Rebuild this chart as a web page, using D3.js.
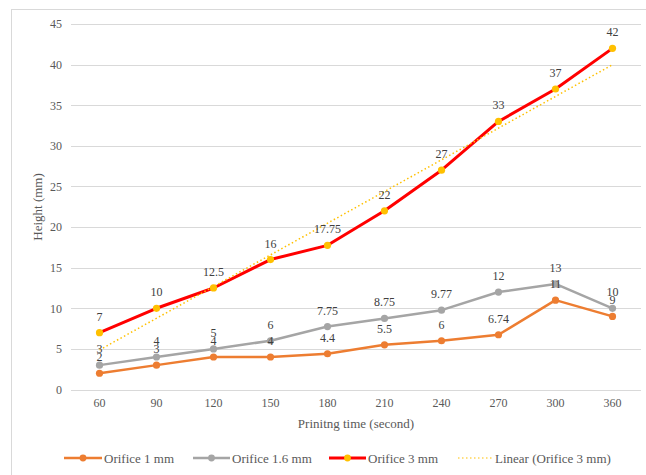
<!DOCTYPE html>
<html>
<head>
<meta charset="utf-8">
<script src="https://cdn.jsdelivr.net/npm/d3@7"></script>
<style>
  body { margin: 0; background: #fff; }
  svg text { font-family: "Liberation Serif", "Times New Roman", serif; }
</style>
</head>
<body>
<script>
// data
const times = ["60", "90", "120", "150", "180", "210", "240", "270", "300", "360"];
const orifice1 = [2, 3, 4, 4, 4.4, 5.5, 6, 6.74, 11, 9];
const orifice16 = [3, 4, 5, 6, 7.75, 8.75, 9.77, 12, 13, 10];
const orifice3 = [7, 10, 12.5, 16, 17.75, 22, 27, 33, 37, 42];
const yTicks = [0, 5, 10, 15, 20, 25, 30, 35, 40, 45];

const series = [
    { name: "Orifice 1 mm", values: orifice1, line: "#ED7D31", marker: "#ED7D31", width: 2.5 },
    { name: "Orifice 1.6 mm", values: orifice16, line: "#A5A5A5", marker: "#A5A5A5", width: 2.5 },
    { name: "Orifice 3 mm", values: orifice3, line: "#FF0000", marker: "#FFC000", width: 3 }
];

const W = 646, H = 475;
const svg = d3.select("body").append("svg")
    .attr("width", W)
    .attr("height", H);

// chart border
svg.append("rect")
    .attr("x", 11.5).attr("y", 9.5)
    .attr("width", 650).attr("height", 480)
    .attr("fill", "none")
    .attr("stroke", "#D9D9D9");

let x = d3.scaleBand().domain(times).range([71, 641]);
let y = d3.scaleLinear().domain([0, 45]).range([389.5, 24]);
const cx = d => x(d) + x.bandwidth() / 2;

// gridlines
svg.append("g")
    .selectAll("line")
    .data(yTicks)
    .enter().append("line")
    .attr("x1", 71).attr("x2", 641)
    .attr("y1", d => Math.round(y(d)) + 0.5)
    .attr("y2", d => Math.round(y(d)) + 0.5)
    .attr("stroke", "#D9D9D9")
    .attr("stroke-width", 1);

// y axis labels
let yAxis = svg.append("g")
    .attr("transform", "translate(62,0)")
    .call(d3.axisLeft(y).tickValues(yTicks).tickSize(0).tickPadding(0));
yAxis.select(".domain").remove();
yAxis.selectAll("text")
    .attr("font-size", 12)
    .attr("fill", "#595959")
    .style("font-family", "Liberation Serif");

// x axis labels
let xAxis = svg.append("g")
    .attr("transform", "translate(0,398)")
    .call(d3.axisBottom(x).tickSize(0).tickPadding(0));
xAxis.select(".domain").remove();
xAxis.selectAll("text")
    .attr("font-size", 12)
    .attr("fill", "#595959")
    .style("font-family", "Liberation Serif");

// axis titles
svg.append("text")
    .attr("x", 356).attr("y", 428)
    .attr("text-anchor", "middle")
    .attr("font-size", 13)
    .attr("fill", "#595959")
    .text("Prinitng time (second)");

svg.append("text")
    .attr("transform", "translate(42,207) rotate(-90)")
    .attr("text-anchor", "middle")
    .attr("font-size", 13)
    .attr("fill", "#595959")
    .text("Height (mm)");

// series lines and markers
let line = d3.line()
    .x((d, i) => cx(times[i]))
    .y(d => y(d));

series.forEach(s => {
    svg.append("path")
        .datum(s.values)
        .attr("d", line)
        .attr("fill", "none")
        .attr("stroke", s.line)
        .attr("stroke-width", s.width)
        .attr("stroke-linejoin", "round");
    svg.append("g")
        .selectAll("circle")
        .data(s.values)
        .enter().append("circle")
        .attr("cx", (d, i) => cx(times[i]))
        .attr("cy", d => y(d))
        .attr("r", 3.6)
        .attr("fill", s.marker);
});

// linear trendline of Orifice 3 mm (least squares on category index)
let n = orifice3.length;
let xs = orifice3.map((d, i) => i + 1);
let mx = d3.mean(xs), my = d3.mean(orifice3);
let slope = d3.sum(xs, (d, i) => (d - mx) * (orifice3[i] - my)) / d3.sum(xs, d => (d - mx) * (d - mx));
let icpt = my - slope * mx;
svg.append("line")
    .attr("x1", cx(times[0])).attr("y1", y(icpt + slope))
    .attr("x2", cx(times[n - 1])).attr("y2", y(icpt + slope * n))
    .attr("stroke", "#FFC000")
    .attr("stroke-width", 1.5)
    .attr("stroke-dasharray", "1.5,2.5");

// data labels
series.forEach(s => {
    svg.append("g")
        .selectAll("text")
        .data(s.values)
        .enter().append("text")
        .attr("x", (d, i) => cx(times[i]))
        .attr("y", d => y(d) - 12)
        .attr("text-anchor", "middle")
        .attr("font-size", 12)
        .attr("fill", "#404040")
        .text(d => d);
});

// legend
let legend = [
    { name: "Orifice 1 mm", x1: 64, x2: 102, color: "#ED7D31", marker: "#ED7D31", w: 2.5 },
    { name: "Orifice 1.6 mm", x1: 193, x2: 230, color: "#A5A5A5", marker: "#A5A5A5", w: 2.5 },
    { name: "Orifice 3 mm", x1: 329, x2: 366, color: "#FF0000", marker: "#FFC000", w: 3 },
    { name: "Linear (Orifice 3 mm)", x1: 458, x2: 493, color: "#FFC000", marker: null, w: 1.2 }
];
const ly = 458;
legend.forEach(l => {
    svg.append("line")
        .attr("x1", l.x1).attr("x2", l.x2)
        .attr("y1", ly).attr("y2", ly)
        .attr("stroke", l.color)
        .attr("stroke-width", l.w)
        .attr("stroke-dasharray", l.marker ? null : "1.5,2.5");
    if (l.marker) {
        svg.append("circle")
            .attr("cx", (l.x1 + l.x2) / 2).attr("cy", ly)
            .attr("r", 3.4)
            .attr("fill", l.marker);
    }
    svg.append("text")
        .attr("x", l.x2 + 2).attr("y", ly + 4.5)
        .attr("font-size", 13)
        .attr("fill", "#595959")
        .text(l.name);
});
</script>
</body>
</html>
